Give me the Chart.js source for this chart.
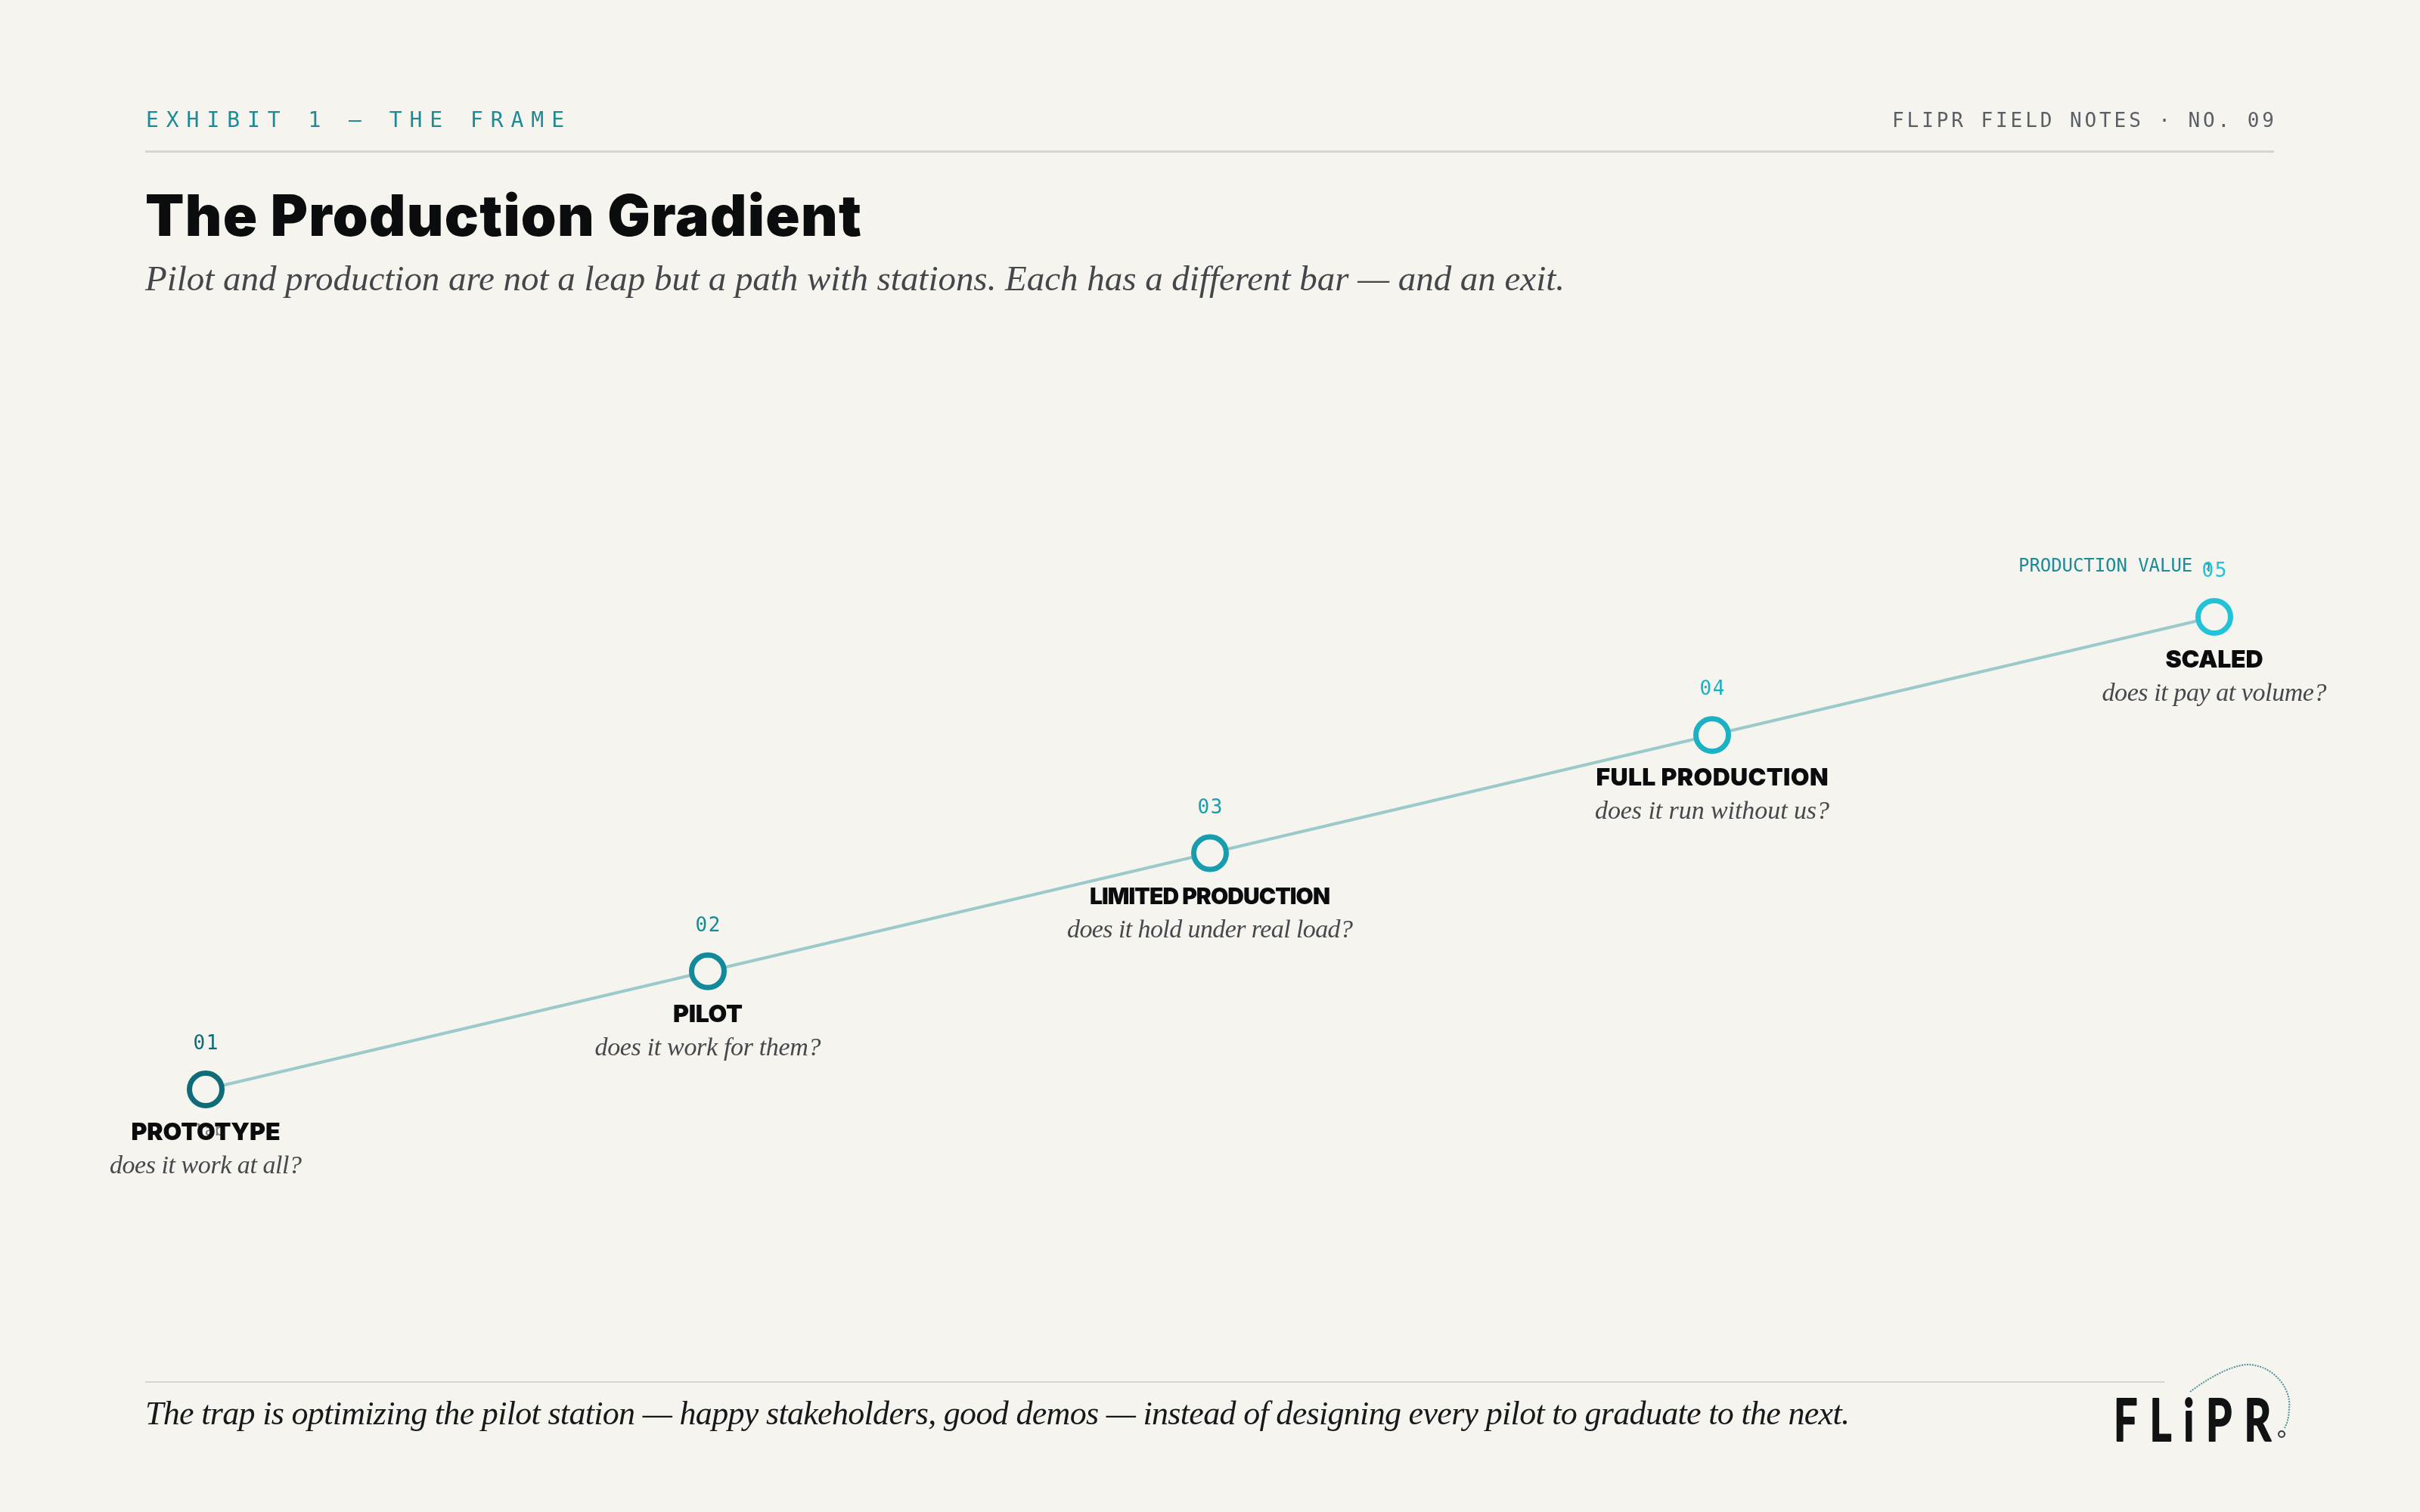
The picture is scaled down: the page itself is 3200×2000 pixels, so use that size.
<!DOCTYPE html>
<html><head><meta charset="utf-8">
<style>html,body{margin:0;padding:0;background:#f5f4ee}canvas{display:block}</style>
<script src="https://cdn.jsdelivr.net/npm/chart.js@4/dist/chart.umd.js"></script>
</head><body>
<canvas id="c" width="3200" height="2000" style="width:3200px;height:2000px"></canvas>
<script>
const stations = ["PROTOTYPE","PILOT","LIMITED PRODUCTION","FULL PRODUCTION","SCALED"];
const numbers = ["01","02","03","04","05"];
const questions = ["does it work at all?","does it work for them?","does it hold under real load?","does it run without us?","does it pay at volume?"];
const values = [1,2,3,4,5];
const pointColors = ["#0f6b78","#128a9a","#189dae","#1cb0c4","#22c3d9"];
const nameWidths = [197,92,318,307,129];
const nameSizes = [32,32,30,32,32];
const questionWidths = [254,299,378,310,297];

const BG = "#f5f4ee";
const SANS = 'Inter, sans-serif';
const SERIF = '"Liberation Serif", serif';
const MONO = '"DejaVu Sans Mono", monospace';

function text(ctx, s, x, y, font, color, align, target){
  ctx.save();
  ctx.font = font; ctx.fillStyle = color; ctx.textBaseline = 'alphabetic'; ctx.textAlign = 'left';
  ctx.letterSpacing = '0px';
  const w = ctx.measureText(s).width;
  const t = target || w;
  if (target) ctx.letterSpacing = ((t - w) / (s.length - 1)) + 'px';
  const left = align === 'center' ? x - t / 2 : align === 'right' ? x - t : x;
  ctx.fillText(s, left, y);
  ctx.restore();
}

const labelsPlugin = {
  id: 'frame',
  afterDraw(chart){
    const ctx = chart.ctx;
    const xs = chart.scales.x, ys = chart.scales.y;
    ctx.save();
    ctx.fillStyle = '#d6d6cc';
    ctx.fillRect(192, 199, 2815, 3);
    ctx.fillRect(192, 1827, 2670, 2);
    ctx.restore();
    text(ctx, "EXHIBIT 1 — THE FRAME", 193, 168, '28px '+MONO, '#1d8a98', 'left', 553);
    text(ctx, "FLIPR FIELD NOTES · NO. 09", 3007, 168, '26px '+MONO, '#5a5f66', 'right', 505);
    text(ctx, "The Production Gradient", 192, 312, '900 75px '+SANS, '#0b0c0e', 'left', 947);
    text(ctx, "Pilot and production are not a leap but a path with stations. Each has a different bar — and an exit.", 192, 384, 'italic 47px '+SERIF, '#44464a', 'left', 1877);
    text(ctx, "The trap is optimizing the pilot station — happy stakeholders, good demos — instead of designing every pilot to graduate to the next.", 192, 1884, 'italic 44px '+SERIF, '#17181a', 'left', 2254);
    text(ctx, "PRODUCTION VALUE ↑", 2669, 756, '24px '+MONO, '#1d8a98', 'left', 259);
    text(ctx, "lab", 277, 1502, '22px '+MONO, '#77797c', 'center', 40);
    stations.forEach((name, i) => {
      const px = xs.getPixelForValue(i), py = ys.getPixelForValue(values[i]);
      text(ctx, numbers[i], px, py - 53, '26px '+MONO, pointColors[i], 'center', 33);
      text(ctx, name, px, py + 67, '900 '+nameSizes[i]+'px '+SANS, '#0b0c0e', 'center', nameWidths[i]);
      text(ctx, questions[i], px, py + 111, 'italic 34px '+SERIF, '#46484b', 'center', questionWidths[i]);
    });
    // logo
    ctx.save();
    ctx.translate(2795, 1906);
    ctx.scale(0.72, 1);
    ctx.strokeStyle = '#111214'; ctx.lineWidth = 2; ctx.lineJoin = 'round';
    ctx.font = '700 77px Lato, sans-serif'; ctx.textBaseline = 'alphabetic';
    ctx.letterSpacing = '0px';
    const w = ctx.measureText("FLiPR").width;
    ctx.letterSpacing = ((289 - w) / 4) + 'px';
    ctx.fillStyle = '#111214';
    ctx.fillText("FLiPR", 0, 0);
    ctx.strokeText("FLiPR", 0, 0);
    ctx.restore();
    ctx.save();
    ctx.strokeStyle = '#4f9597'; ctx.lineWidth = 2; ctx.setLineDash([2,1.5]);
    ctx.beginPath(); ctx.moveTo(2896,1841);
    ctx.bezierCurveTo(2930,1815,2960,1804,2975,1805);
    ctx.bezierCurveTo(3010,1808,3030,1840,3027,1862);
    ctx.bezierCurveTo(3027,1875,3024,1883,3021,1889);
    ctx.stroke();
    ctx.setLineDash([]); ctx.strokeStyle='#3a3c3e'; ctx.lineWidth=2;
    ctx.beginPath(); ctx.arc(3017,1897,4,0,Math.PI*2); ctx.stroke();
    ctx.restore();
  }
};

new Chart(document.getElementById('c'), {
  type: 'line',
  data: {
    labels: stations,
    datasets: [{
      data: values,
      borderColor: '#9ccacb',
      borderWidth: 4,
      tension: 0,
      fill: false,
      clip: false,
      pointStyle: 'circle',
      pointRadius: 21.5,
      pointBorderWidth: 7,
      pointBackgroundColor: BG,
      pointBorderColor: pointColors
    }]
  },
  options: {
    responsive: false,
    devicePixelRatio: 1,
    animation: false,
    layout: { padding: { left: 272, right: 272, top: 816, bottom: 559 } },
    plugins: { legend: { display: false }, tooltip: { enabled: false }, title: { display: false } },
    scales: {
      x: { type: 'category', offset: false, display: false },
      y: { type: 'linear', min: 1, max: 5, display: false }
    }
  },
  plugins: [{ id: 'bg', beforeDraw(c){ c.ctx.save(); c.ctx.fillStyle = BG; c.ctx.fillRect(0,0,c.width,c.height); c.ctx.restore(); } }, labelsPlugin]
});
</script>
</body></html>
